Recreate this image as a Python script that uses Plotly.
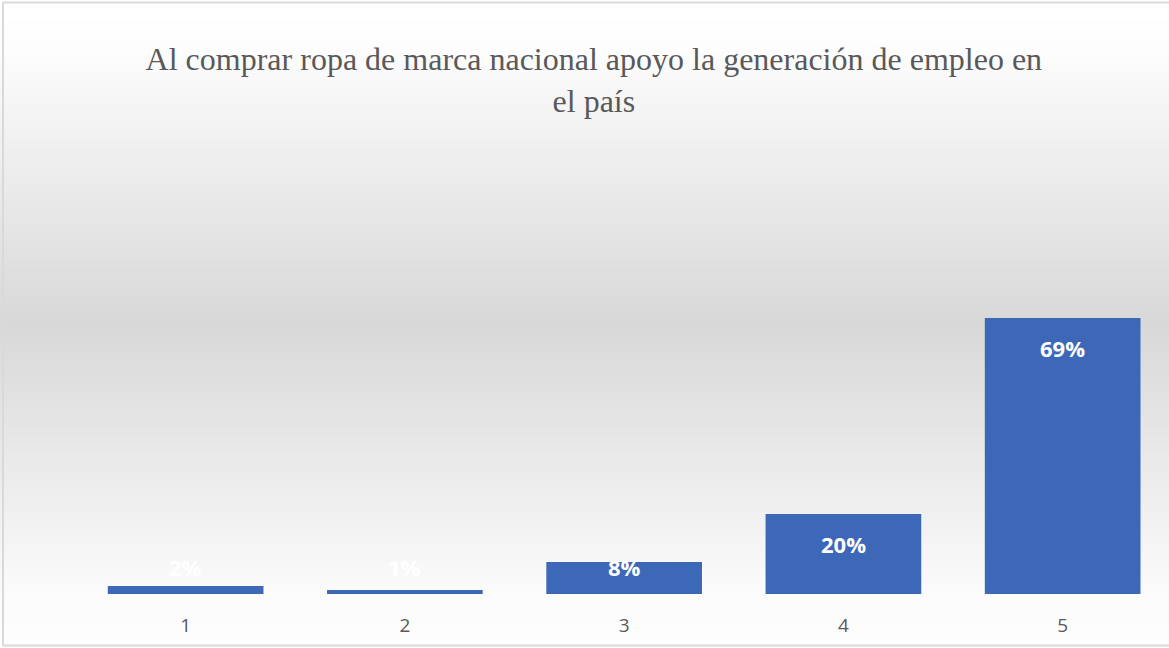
import base64
import struct
import zlib

import plotly.graph_objects as go

categorias = ["1", "2", "3", "4", "5"]
porcentajes = [2, 1, 8, 20, 69]
etiquetas = ["2%", "1%", "8%", "20%", "69%"]

titulo = "Al comprar ropa de marca nacional apoyo la generación de empleo en<br>el país"

W, H = 1169, 648
M = dict(l=76, r=0, t=274, b=54)
BAR = "#3D68B8"
GRIS = "#595959"


def gradient_png(height):
    # vertical grey gradient like the Excel chart area fill
    stops = [(0.0, 255), (0.06, 254), (0.5, 216), (0.93, 252), (1.0, 253)]
    rows = b""
    for i in range(height):
        f = i / (height - 1)
        for (a, ca), (b, cb) in zip(stops, stops[1:]):
            if a <= f <= b:
                c = round(ca + (cb - ca) * (f - a) / (b - a))
                break
        rows += b"\x00" + bytes([c])
    def chunk(tag, data):
        return (struct.pack(">I", len(data)) + tag + data
                + struct.pack(">I", zlib.crc32(tag + data) & 0xFFFFFFFF))
    png = b"\x89PNG\r\n\x1a\n"
    png += chunk(b"IHDR", struct.pack(">IIBBBBB", 1, height, 8, 0, 0, 0, 0))
    png += chunk(b"IDAT", zlib.compress(rows))
    png += chunk(b"IEND", b"")
    return "data:image/png;base64," + base64.b64encode(png).decode()


pw = W - M["l"] - M["r"]
ph = H - M["t"] - M["b"]

fig = go.Figure(
    go.Bar(
        x=categorias,
        y=porcentajes,
        marker=dict(color=BAR, line=dict(width=0)),
        width=0.71,
        hoverinfo="skip",
    )
)

# data labels: inside end, clamped near the base for short bars
for i, (v, t) in enumerate(zip(porcentajes, etiquetas)):
    fig.add_annotation(
        x=i, y=max(v - 7.5, 6.75), text=t, showarrow=False,
        font=dict(family="Open Sans", size=22, color="white", weight="bold"),
        yanchor="middle",
    )

fig.add_layout_image(
    source=gradient_png(H),
    xref="paper", yref="paper",
    x=-M["l"] / pw, y=1 + M["t"] / ph,
    sizex=W / pw, sizey=H / ph,
    sizing="stretch", xanchor="left", yanchor="top", layer="below",
)

# chart border (right edge cropped in the original)
borde = dict(color="#d9d9d9", width=2)
for x0, y0, x1, y1 in [(3, 2.5, W, 2.5), (3, 2.5, 3, 645.5), (3, 645.5, W, 645.5)]:
    fig.add_shape(
        type="line", xref="paper", yref="paper",
        x0=(x0 - M["l"]) / pw, x1=(x1 - M["l"]) / pw,
        y0=(H - M["b"] - y0) / ph, y1=(H - M["b"] - y1) / ph,
        line=borde,
    )

fig.update_layout(
    width=W,
    height=H,
    margin=M,
    paper_bgcolor="white",
    plot_bgcolor="rgba(0,0,0,0)",
    showlegend=False,
    title=dict(
        text=titulo,
        font=dict(family="Liberation Serif", size=32, color=GRIS),
        x=0.508, xanchor="center",
        y=1 - 70 / H, yanchor="middle", yref="container",
    ),
)
fig.update_xaxes(
    type="category",
    range=[-0.5, 4.485],
    showgrid=False, zeroline=False, showline=False, ticks="",
    tickfont=dict(family="Open Sans", size=19, color=GRIS),
    ticklabelstandoff=18,
)
fig.update_yaxes(
    range=[0, 80],
    visible=False,
)

fig.write_html(
    "out.html",
    config={"displayModeBar": False},
    post_script="document.body.style.margin = '0';",
)
